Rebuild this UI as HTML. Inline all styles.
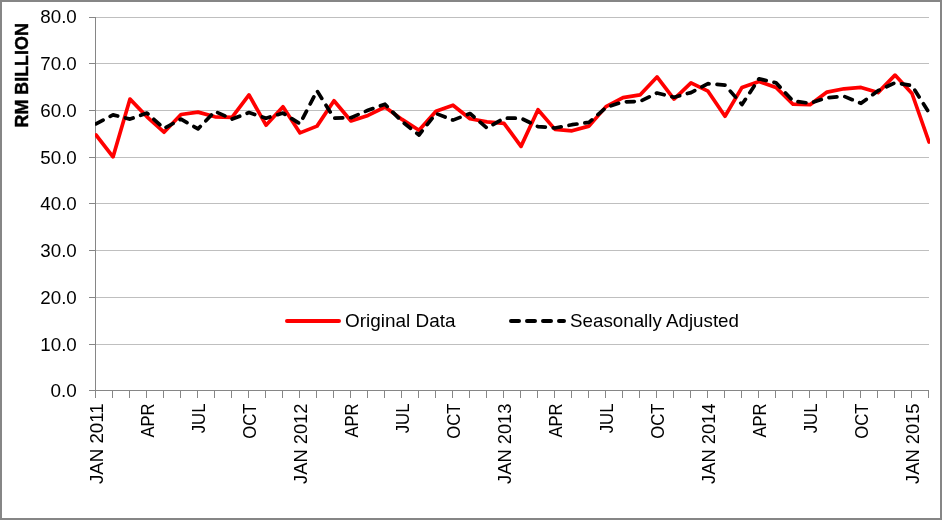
<!DOCTYPE html>
<html lang="en">
<head>
<meta charset="utf-8">
<title>Exports: Original Data and Seasonally Adjusted (RM Billion)</title>
<style>
html,body{margin:0;padding:0;background:#fff;}
body{width:947px;height:524px;overflow:hidden;}
svg{display:block;will-change:transform;}
svg text{font-family:"Liberation Sans",Arial,sans-serif;fill:#000;}
.g{stroke:#bfbfbf;stroke-width:1;shape-rendering:crispEdges;}
.a{stroke:#868686;stroke-width:1;shape-rendering:crispEdges;}
</style>
</head>
<body>
<svg width="947" height="524" viewBox="0 0 947 524">
<rect x="0" y="0" width="947" height="524" fill="#ffffff"/>
<rect x="1" y="1" width="940" height="518" fill="#ffffff" stroke="#868686" stroke-width="2" shape-rendering="crispEdges"/>
<line class="g" x1="96" y1="17.5" x2="929" y2="17.5"/>
<line class="g" x1="96" y1="63.5" x2="929" y2="63.5"/>
<line class="g" x1="96" y1="110.5" x2="929" y2="110.5"/>
<line class="g" x1="96" y1="157.5" x2="929" y2="157.5"/>
<line class="g" x1="96" y1="203.5" x2="929" y2="203.5"/>
<line class="g" x1="96" y1="250.5" x2="929" y2="250.5"/>
<line class="g" x1="96" y1="297.5" x2="929" y2="297.5"/>
<line class="g" x1="96" y1="344.5" x2="929" y2="344.5"/>
<line class="a" x1="95.5" y1="17" x2="95.5" y2="391"/>
<line class="a" x1="89" y1="17.5" x2="96" y2="17.5"/>
<line class="a" x1="89" y1="63.5" x2="96" y2="63.5"/>
<line class="a" x1="89" y1="110.5" x2="96" y2="110.5"/>
<line class="a" x1="89" y1="157.5" x2="96" y2="157.5"/>
<line class="a" x1="89" y1="203.5" x2="96" y2="203.5"/>
<line class="a" x1="89" y1="250.5" x2="96" y2="250.5"/>
<line class="a" x1="89" y1="297.5" x2="96" y2="297.5"/>
<line class="a" x1="89" y1="344.5" x2="96" y2="344.5"/>
<line class="a" x1="89" y1="390.5" x2="96" y2="390.5"/>
<line class="a" x1="95" y1="390.5" x2="929" y2="390.5"/>
<line class="a" x1="95.5" y1="390" x2="95.5" y2="398"/>
<line class="a" x1="112.5" y1="390" x2="112.5" y2="398"/>
<line class="a" x1="129.5" y1="390" x2="129.5" y2="398"/>
<line class="a" x1="146.5" y1="390" x2="146.5" y2="398"/>
<line class="a" x1="163.5" y1="390" x2="163.5" y2="398"/>
<line class="a" x1="180.5" y1="390" x2="180.5" y2="398"/>
<line class="a" x1="197.5" y1="390" x2="197.5" y2="398"/>
<line class="a" x1="214.5" y1="390" x2="214.5" y2="398"/>
<line class="a" x1="231.5" y1="390" x2="231.5" y2="398"/>
<line class="a" x1="248.5" y1="390" x2="248.5" y2="398"/>
<line class="a" x1="265.5" y1="390" x2="265.5" y2="398"/>
<line class="a" x1="282.5" y1="390" x2="282.5" y2="398"/>
<line class="a" x1="299.5" y1="390" x2="299.5" y2="398"/>
<line class="a" x1="316.5" y1="390" x2="316.5" y2="398"/>
<line class="a" x1="333.5" y1="390" x2="333.5" y2="398"/>
<line class="a" x1="350.5" y1="390" x2="350.5" y2="398"/>
<line class="a" x1="367.5" y1="390" x2="367.5" y2="398"/>
<line class="a" x1="384.5" y1="390" x2="384.5" y2="398"/>
<line class="a" x1="401.5" y1="390" x2="401.5" y2="398"/>
<line class="a" x1="418.5" y1="390" x2="418.5" y2="398"/>
<line class="a" x1="435.5" y1="390" x2="435.5" y2="398"/>
<line class="a" x1="452.5" y1="390" x2="452.5" y2="398"/>
<line class="a" x1="469.5" y1="390" x2="469.5" y2="398"/>
<line class="a" x1="486.5" y1="390" x2="486.5" y2="398"/>
<line class="a" x1="503.5" y1="390" x2="503.5" y2="398"/>
<line class="a" x1="520.5" y1="390" x2="520.5" y2="398"/>
<line class="a" x1="537.5" y1="390" x2="537.5" y2="398"/>
<line class="a" x1="554.5" y1="390" x2="554.5" y2="398"/>
<line class="a" x1="571.5" y1="390" x2="571.5" y2="398"/>
<line class="a" x1="588.5" y1="390" x2="588.5" y2="398"/>
<line class="a" x1="605.5" y1="390" x2="605.5" y2="398"/>
<line class="a" x1="622.5" y1="390" x2="622.5" y2="398"/>
<line class="a" x1="639.5" y1="390" x2="639.5" y2="398"/>
<line class="a" x1="656.5" y1="390" x2="656.5" y2="398"/>
<line class="a" x1="673.5" y1="390" x2="673.5" y2="398"/>
<line class="a" x1="690.5" y1="390" x2="690.5" y2="398"/>
<line class="a" x1="707.5" y1="390" x2="707.5" y2="398"/>
<line class="a" x1="724.5" y1="390" x2="724.5" y2="398"/>
<line class="a" x1="741.5" y1="390" x2="741.5" y2="398"/>
<line class="a" x1="758.5" y1="390" x2="758.5" y2="398"/>
<line class="a" x1="775.5" y1="390" x2="775.5" y2="398"/>
<line class="a" x1="792.5" y1="390" x2="792.5" y2="398"/>
<line class="a" x1="809.5" y1="390" x2="809.5" y2="398"/>
<line class="a" x1="826.5" y1="390" x2="826.5" y2="398"/>
<line class="a" x1="843.5" y1="390" x2="843.5" y2="398"/>
<line class="a" x1="860.5" y1="390" x2="860.5" y2="398"/>
<line class="a" x1="877.5" y1="390" x2="877.5" y2="398"/>
<line class="a" x1="894.5" y1="390" x2="894.5" y2="398"/>
<line class="a" x1="911.5" y1="390" x2="911.5" y2="398"/>
<line class="a" x1="928.5" y1="390" x2="928.5" y2="398"/>
<text x="76.8" y="23.3" font-size="19" text-anchor="end" textLength="36.5" lengthAdjust="spacingAndGlyphs">80.0</text>
<text x="76.8" y="70.1" font-size="19" text-anchor="end" textLength="36.5" lengthAdjust="spacingAndGlyphs">70.0</text>
<text x="76.8" y="117.1" font-size="19" text-anchor="end" textLength="36.5" lengthAdjust="spacingAndGlyphs">60.0</text>
<text x="76.8" y="164.1" font-size="19" text-anchor="end" textLength="36.5" lengthAdjust="spacingAndGlyphs">50.0</text>
<text x="76.8" y="210.1" font-size="19" text-anchor="end" textLength="36.5" lengthAdjust="spacingAndGlyphs">40.0</text>
<text x="76.8" y="257.1" font-size="19" text-anchor="end" textLength="36.5" lengthAdjust="spacingAndGlyphs">30.0</text>
<text x="76.8" y="304.1" font-size="19" text-anchor="end" textLength="36.5" lengthAdjust="spacingAndGlyphs">20.0</text>
<text x="76.8" y="351.1" font-size="19" text-anchor="end" textLength="36.5" lengthAdjust="spacingAndGlyphs">10.0</text>
<text x="76.8" y="397.1" font-size="19" text-anchor="end" textLength="26.3" lengthAdjust="spacingAndGlyphs">0.0</text>
<text transform="translate(28.2,127.4) rotate(-90)" font-size="19" font-weight="bold" stroke="#000000" stroke-width="0.45" textLength="104.2" lengthAdjust="spacingAndGlyphs">RM BILLION</text>
<text transform="translate(103.2,403.5) rotate(-90)" font-size="19" text-anchor="end" textLength="80.5" lengthAdjust="spacingAndGlyphs">JAN 2011</text>
<text transform="translate(154.2,403.5) rotate(-90)" font-size="19" text-anchor="end" textLength="34.0" lengthAdjust="spacingAndGlyphs">APR</text>
<text transform="translate(205.2,403.5) rotate(-90)" font-size="19" text-anchor="end" textLength="29.8" lengthAdjust="spacingAndGlyphs">JUL</text>
<text transform="translate(256.2,403.5) rotate(-90)" font-size="19" text-anchor="end" textLength="35.2" lengthAdjust="spacingAndGlyphs">OCT</text>
<text transform="translate(307.2,403.5) rotate(-90)" font-size="19" text-anchor="end" textLength="80.5" lengthAdjust="spacingAndGlyphs">JAN 2012</text>
<text transform="translate(358.2,403.5) rotate(-90)" font-size="19" text-anchor="end" textLength="34.0" lengthAdjust="spacingAndGlyphs">APR</text>
<text transform="translate(409.2,403.5) rotate(-90)" font-size="19" text-anchor="end" textLength="29.8" lengthAdjust="spacingAndGlyphs">JUL</text>
<text transform="translate(460.2,403.5) rotate(-90)" font-size="19" text-anchor="end" textLength="35.2" lengthAdjust="spacingAndGlyphs">OCT</text>
<text transform="translate(511.2,403.5) rotate(-90)" font-size="19" text-anchor="end" textLength="80.5" lengthAdjust="spacingAndGlyphs">JAN 2013</text>
<text transform="translate(562.2,403.5) rotate(-90)" font-size="19" text-anchor="end" textLength="34.0" lengthAdjust="spacingAndGlyphs">APR</text>
<text transform="translate(613.2,403.5) rotate(-90)" font-size="19" text-anchor="end" textLength="29.8" lengthAdjust="spacingAndGlyphs">JUL</text>
<text transform="translate(664.2,403.5) rotate(-90)" font-size="19" text-anchor="end" textLength="35.2" lengthAdjust="spacingAndGlyphs">OCT</text>
<text transform="translate(715.2,403.5) rotate(-90)" font-size="19" text-anchor="end" textLength="80.5" lengthAdjust="spacingAndGlyphs">JAN 2014</text>
<text transform="translate(766.2,403.5) rotate(-90)" font-size="19" text-anchor="end" textLength="34.0" lengthAdjust="spacingAndGlyphs">APR</text>
<text transform="translate(817.2,403.5) rotate(-90)" font-size="19" text-anchor="end" textLength="29.8" lengthAdjust="spacingAndGlyphs">JUL</text>
<text transform="translate(868.2,403.5) rotate(-90)" font-size="19" text-anchor="end" textLength="35.2" lengthAdjust="spacingAndGlyphs">OCT</text>
<text transform="translate(919.2,403.5) rotate(-90)" font-size="19" text-anchor="end" textLength="80.5" lengthAdjust="spacingAndGlyphs">JAN 2015</text>
<defs><clipPath id="plotclip"><rect x="95" y="10" width="835" height="385"/></clipPath></defs>
<g clip-path="url(#plotclip)">
<polyline points="96.0,135.0 113.0,156.9 130.0,99.1 147.0,116.8 164.0,132.2 181.0,114.5 198.0,112.1 215.0,116.8 232.0,117.3 249.0,94.9 266.0,125.2 283.0,106.8 300.0,132.9 317.0,126.1 334.0,100.7 351.0,121.0 368.0,115.4 385.0,107.0 402.0,119.4 419.0,130.3 436.0,111.2 453.0,105.2 470.0,118.7 487.0,121.9 504.0,123.3 521.0,146.4 538.0,109.8 555.0,129.4 572.0,130.8 589.0,126.1 606.0,106.6 623.0,97.7 640.0,94.9 657.0,76.9 674.0,99.1 691.0,82.8 708.0,91.2 725.0,116.3 742.0,87.4 759.0,81.4 776.0,87.4 793.0,104.2 810.0,104.7 827.0,92.1 844.0,88.8 861.0,87.4 878.0,92.6 895.0,75.1 912.0,93.5 929.0,142.0" fill="none" stroke="#ff0000" stroke-width="3.7" stroke-linecap="round" stroke-linejoin="round"/>
<polyline points="96.0,123.8 113.0,114.9 130.0,119.1 147.0,113.1 164.0,128.5 181.0,119.1 198.0,128.9 215.0,111.4 232.0,119.1 249.0,112.6 266.0,118.2 283.0,113.1 300.0,123.8 317.0,90.7 334.0,118.2 351.0,117.7 368.0,110.3 385.0,104.2 402.0,121.5 419.0,135.0 436.0,113.5 453.0,120.1 470.0,113.5 487.0,128.0 504.0,118.2 521.0,118.2 538.0,126.6 555.0,128.0 572.0,124.7 589.0,122.4 606.0,107.5 623.0,101.9 640.0,101.4 657.0,93.0 674.0,97.2 691.0,92.6 708.0,83.7 725.0,85.1 742.0,104.5 759.0,78.8 776.0,82.8 793.0,101.0 810.0,103.3 827.0,97.7 844.0,96.3 861.0,103.3 878.0,90.7 895.0,82.8 912.0,85.6 929.0,112.6" fill="none" stroke="#000000" stroke-width="3.7" stroke-linecap="round" stroke-linejoin="round" stroke-dasharray="8 8"/>
</g>
<line x1="287" y1="321" x2="339" y2="321" stroke="#ff0000" stroke-width="4" stroke-linecap="round"/>
<text x="345" y="327" font-size="19" textLength="110.5" lengthAdjust="spacingAndGlyphs">Original Data</text>
<line x1="511" y1="321" x2="564" y2="321" stroke="#000000" stroke-width="4" stroke-linecap="round" stroke-dasharray="8 8"/>
<text x="570" y="327" font-size="19" textLength="169.0" lengthAdjust="spacingAndGlyphs">Seasonally Adjusted</text>
</svg>
</body>
</html>
